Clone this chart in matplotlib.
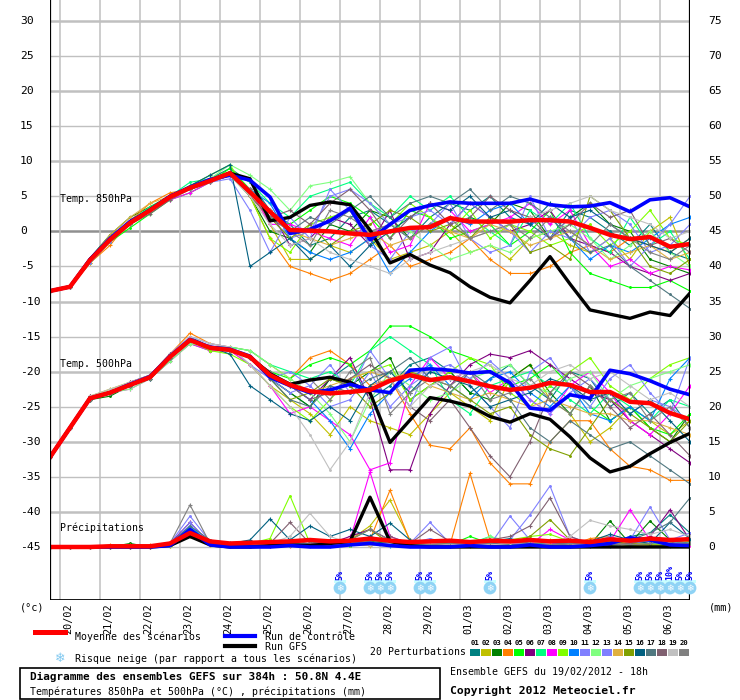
import matplotlib
matplotlib.use('Agg')
import matplotlib.pyplot as plt
import matplotlib.transforms as mtransforms
from matplotlib.patches import Rectangle
from matplotlib.lines import Line2D
import numpy as np

plt.rcParams['font.family'] = ['DejaVu Sans Mono', 'DejaVu Sans']

# time axis: hours from 19/02/2012 18h, every 12h
hours = list(range(0, 385, 12))

t850_mean = [-8.5, -7.9, -4.1, -1.2, 1.2, 3.0, 4.9, 6.2, 7.2, 8.3, 5.6, 2.8, 0.2, 0.1, 0.0, -0.3, -0.5,
             0.0, 0.5, 0.6, 1.9, 1.4, 1.4, 1.4, 1.6, 1.6, 1.4, 0.5, -0.5, -1.1, -0.8, -2.2, -1.8]
t850_ctrl = [-8.5, -7.9, -4.0, -1.0, 1.4, 3.0, 5.0, 6.3, 7.4, 8.0, 7.3, 4.9, -0.3, 0.3, 1.5, 3.3, -1.2,
             1.0, 3.0, 3.7, 4.2, 4.0, 4.0, 4.0, 4.6, 3.8, 3.5, 3.6, 4.1, 2.8, 4.5, 4.8, 3.5]
t850_gfs = [-8.5, -7.9, -4.0, -1.1, 1.3, 3.1, 5.0, 6.2, 7.3, 8.3, 7.5, 1.5, 2.0, 3.7, 4.2, 3.8, 0.2,
            -4.5, -3.3, -4.8, -5.9, -7.9, -9.4, -10.2, -7.0, -3.6, -7.5, -11.2, -11.8, -12.4, -11.5, -12.0, -8.8]

t500_mean = [-32.2, -28.0, -23.8, -23.0, -21.9, -20.8, -17.9, -15.5, -16.6, -16.9, -17.9, -20.5, -21.9,
             -22.8, -23.1, -22.9, -22.6, -21.3, -20.5, -21.2, -20.8, -21.4, -22.1, -22.6, -22.3, -21.6,
             -21.9, -22.9, -22.9, -24.3, -24.5, -25.9, -26.8]
t500_ctrl = [-32.2, -28.0, -23.8, -23.0, -21.8, -20.7, -17.8, -15.4, -16.5, -16.8, -17.8, -20.8, -22.0,
             -23.0, -22.6, -21.8, -22.6, -23.0, -19.8, -19.6, -19.8, -20.2, -20.0, -21.6, -25.2, -25.5,
             -23.3, -23.8, -19.8, -20.3, -21.3, -22.5, -23.3]
t500_gfs = [-32.2, -28.0, -23.8, -23.0, -21.9, -20.8, -17.9, -15.5, -16.6, -16.9, -17.9, -20.3, -21.8,
            -21.2, -20.8, -21.5, -23.0, -30.1, -26.9, -23.7, -24.2, -24.9, -26.4, -27.2, -26.0, -26.8,
            -29.3, -32.3, -34.3, -33.5, -31.7, -30.1, -28.8]

precip_mean = [0, 0, 0, 0.1, 0.1, 0.1, 0.5, 2.0, 0.8, 0.5, 0.6, 0.7, 0.8, 1.0, 0.8, 0.9, 1.2, 0.9, 0.7,
               0.8, 0.9, 0.7, 0.9, 0.8, 1.0, 0.8, 0.9, 0.7, 1.1, 0.9, 1.2, 1.0, 1.1]
precip_ctrl = [0, 0, 0, 0, 0, 0, 0.2, 2.5, 0.3, 0, 0, 0, 0.2, 0, 0, 0.3, 0.5, 0.2, 0, 0, 0, 0.2, 0, 0,
               0.3, 0, 0, 0.2, 0.5, 1.3, 1.0, 0.3, 0.2]
precip_gfs = [0, 0, 0, 0, 0, 0, 0.2, 1.5, 0.3, 0, 0, 0.2, 0.3, 0.2, 0.5, 0.8, 7.1, 0.8, 0.2, 0, 0, 0, 0,
              0, 0, 0, 0, 0, 0, 0, 0, 0, 0]

member_colors = ['#008080', '#c0c000', '#008000', '#ff8000', '#00ff00', '#800080', '#00ff80',
                 '#ff00ff', '#80ff00', '#0080ff', '#8080ff', '#80ff80', '#7f7fff', '#e0b040',
                 '#80a000', '#006080', '#507880', '#806070', '#c0c0c0', '#808080']

t850_members = [
    [-8.5, -7.8, -4, -1, 1.5, 3, 5, 6.5, 7.5, 9, 7, 3, 1, -2, -1, 2, 3, 1, -1, 2, 4, 3, 5, 2, 1, -1, 3, 2, 0, -2, 1, -3, -4],
    [-8.5, -8, -4.5, -1.5, 1, 3, 5, 6, 7, 8.5, 6, 1, -4, -4, -2, -3, -1, -4, -3, -2, 0, -3, -2, -4, -1, 0, -2, -3, -1, -4, 0, 2, -5],
    [-8.5, -7.9, -3.8, -0.5, 2, 3.5, 5, 6, 7, 8, 5, 0, -1, -3, 1, 0, 3, 2, -1, 1, 0, 2, 1, 4, 3, -1, 2, 4, 1, 0, -4, -5, -6],
    [-8.5, -8, -4.5, -2, 1.5, 4, 5.5, 6, 7.5, 8.5, 5, -1, -5, -6, -7, -6, -4, -2, -5, -4, -3, -1, -4, -6, -6, -5, -3, -2, -3, -1, -2, -3, -1],
    [-8.5, -7.9, -4.5, -1.5, 0.5, 2.5, 4.5, 5.5, 7, 9, 6, 2, 1, 3, 5, 4, 2, -1, 3, 2, -1, 0, 1, -2, 0, 3, -3, -6, -7, -8, -8, -7, -8.5],
    [-8.5, -7.9, -4, -1, 1, 3, 5, 6, 7, 8, 6, 3, -2, -1, 2, 1, -2, 3, -4, -3, 1, 4, 2, 0, 1, 3, -1, -2, -3, -5, -6, -7, -6],
    [-8.5, -8, -4, -1, 1.5, 3.5, 5, 7, 7.5, 8.5, 7, 4, 2, 5, 6, 7, 4, 2, 5, 3, 5, 2, 0, -2, 3, 1, 4, -1, -3, 2, -2, 0, -4],
    [-8.5, -7.9, -4, -1, 1, 3, 4.5, 5.5, 7, 8, 6, 1, 1, 0, -1, -2, 2, -3, -2, 4, 3, 0, 1, 2, 4, 1, 3, -2, -5, -4, -6, -5, -5.5],
    [-8.5, -7.9, -4, -1, 1, 3, 5, 6.5, 8, 9.5, 5, -1, -3, 1, 2, 3, -2, 1, 4, 2, 0, 3, -1, 1, 0, -2, -1, 1, -2, 0, 3, -1, -2],
    [-8.5, -7.9, -4, -1, 1.5, 3, 5, 6, 7.5, 8, 6, 4, -1, -3, -4, -3, -1, -6, -3, 0, 2, 1, 3, 4, 1, 2, -1, -4, -2, -3, -1, 1, 2],
    [-8.5, -7.9, -4.5, -1.5, 1, 3, 5, 6, 7, 7.5, 3, -3, 2, -1, 6, 3, -2, -4, 0, 1, 4, -1, -3, -2, 5, -1, 2, -3, -1, -5, -2, 1, 5],
    [-8.5, -8, -4, -1, 1, 3, 5, 6.5, 7.5, 9.5, 8, 6, 3, 6.5, 7, 7.8, 4, 1, 0, -2, -4, -3, -2, -3, -1, 0, 1, -1, -4, -2, 0, -3, -5],
    [-8.5, -7.9, -4, -1, 1.5, 3, 5, 6, 7, 8, 6, 2, -1, 0, 5, 6, 4, 1, 2, 3, 1, 4, 2, 0, -3, 0, -1, 2, 3, 1, -3, -2, 1],
    [-8.5, -8, -4, -0.5, 2, 4, 5, 6, 7.5, 8, 6, 3, 0, -1, -2, -1, 0, -2, -1, 1, 0, -1, 1, 0, -2, -1, 0, -2, -4, -3, -2, -4, -3],
    [-8.5, -7.9, -4, -1, 1, 3, 5, 6, 7, 8.5, 5, 2, -1, 1, -2, 0, 1, 3, 2, 0, 1, -1, 2, 1, -3, -2, -4, 5, 3, -1, -5, -6, -4],
    [-8.5, -7.9, -4, -1, 1.5, 3, 5, 6.5, 8, 9.5, -5, -3, -1, -4, -2, -5, -2, 0, 2, 4, 3, 5, 2, 3, 1, 4, 2, 3, 1, -1, -2, -3, -1],
    [-8.5, -7.9, -4, -1, 1, 3, 5, 6, 7, 8, 6, 2, 0, 2, 1, 3, 5, 2, 4, 5, 4, 6, 3, 5, 4, 2, -1, -3, -2, -5, -7, -9, -11],
    [-8.5, -7.9, -4, -1, 1, 2.5, 4.5, 6, 7, 8.5, 5, 2, 3, 1, 4, 6, 3, -1, 2, 4, 1, 2, 5, 3, 2, -1, 1, 4, 2, 3, -2, -1, -3],
    [-8.5, -7.9, -4, -1, 1, 3, 5, 6, 7, 8, 5, 1, -2, -1, -3, -4, -5, -6, -4, -3, -2, -1, 0, 1, 2, 3, 4, 5, 3, 2, 1, -1, 0],
    [-8.5, -7.9, -4, -1, 1, 3, 5, 6, 7, 8, 6, 2, 0, -2, 3, 2, 0, 1, -1, 1, 2, -1, 0, 1, -1, 2, 0, -2, 1, -1, -3, -4, -2],
]

t500_members = [
    [-32.2, -28, -24, -23, -22, -20.5, -18, -15, -16.5, -17, -18, -21, -23, -25, -21, -19, -24, -22, -19, -18, -20, -23, -21, -19, -22, -24, -20, -21, -25, -23, -26, -24, -28],
    [-32.2, -28, -23.5, -22.5, -21.5, -20.5, -17.5, -15.5, -16.5, -17, -19, -22, -24, -26, -29, -25, -27, -28, -29, -26, -23, -25, -27, -21, -19, -24, -26, -30, -28, -25, -27, -29, -27],
    [-32.2, -28, -24, -23.5, -22, -21, -18, -15.5, -17, -17, -18, -21, -23, -25, -21, -22, -20, -18, -24, -22, -20, -23, -24, -21, -19, -23, -26, -22, -27, -25, -28, -30, -26],
    [-32.2, -28, -24, -23, -22, -20.5, -17.5, -14.5, -16, -16.5, -17, -19, -21, -18, -17, -19, -22, -21, -26, -30.5, -31, -28, -33, -36, -36, -30, -27, -27, -31, -33.5, -34, -35.5, -35.5],
    [-32.2, -28, -24, -23, -22, -21, -18.5, -16, -17, -17, -18, -20, -21, -19, -18, -19, -17, -13.5, -13.5, -15, -17, -18, -20, -22, -21, -19, -22, -25, -27, -25, -28, -29, -26],
    [-32.2, -28, -23.5, -23, -21.5, -20.5, -17.5, -15.5, -16.5, -17, -18, -21, -22, -24, -21, -18, -24, -34, -34, -26, -22, -19, -17.5, -18, -17, -19, -21, -23, -24, -27, -29, -31, -33],
    [-32.2, -28, -24, -23, -22, -21, -18, -15.5, -16.5, -16.5, -17, -19, -20, -21, -20, -22, -17, -15, -17, -19, -24, -26, -22, -21, -20, -22, -24, -26, -23, -25, -27, -24, -25],
    [-32.2, -28, -24, -23, -22.5, -21, -18.5, -16, -17, -17, -19, -22, -26, -25, -27, -29, -34, -33, -22, -18, -21, -20, -23, -21, -24, -26, -22, -20, -23, -27, -29, -26, -22],
    [-32.2, -28, -24, -23, -22, -21, -18, -15.5, -17, -17.5, -19, -22, -25, -27, -24, -21, -20, -19, -24, -22, -20, -18, -19, -23, -25, -22, -20, -18, -22, -24, -21, -19, -18],
    [-32.2, -28, -24, -23, -22, -21, -18, -15.5, -16.5, -17, -18, -20, -22, -24, -27, -31, -26, -23, -21, -19, -22, -24, -21, -20, -23, -25, -22, -26, -27, -25, -27, -21, -18],
    [-32.2, -28, -24, -23, -22, -20.5, -17.5, -15, -16, -16.5, -19, -21, -20, -22, -19, -23, -17, -21, -25, -18, -16.5, -22, -25, -28, -20, -18, -22, -25, -21, -19, -23, -26, -18],
    [-32.2, -28, -24, -23, -22.5, -21, -18.5, -16, -16.5, -16.5, -17, -19, -21, -23, -26, -30, -24, -20, -22, -24, -23, -21, -20, -19, -22, -23, -21, -20, -24, -22, -21, -20, -19],
    [-32.2, -28, -24, -23, -22, -21, -18, -15.5, -16.5, -17, -18, -21, -23, -22, -25, -24, -20, -25, -22, -20, -19, -21, -18.5, -21, -24, -26, -23, -21, -24, -26, -24, -25, -27],
    [-32.2, -28, -24, -23, -22, -20.5, -18, -15.5, -16.5, -17, -18, -20, -22, -23, -22, -21, -20, -21, -20, -22, -23, -24, -23, -24, -25, -24, -25, -26, -26, -27, -27, -28, -29],
    [-32.2, -28, -24, -23, -22, -21, -18, -15.5, -16.5, -17, -18, -21, -24, -23, -21, -22, -25, -23, -20, -21, -22, -24, -26, -25, -29, -31, -32, -28, -24, -26, -28, -30, -27],
    [-32.2, -28, -24, -23, -22, -21, -18, -15.5, -16.5, -17.5, -22, -24, -26, -27, -25, -27, -22, -20, -23, -20, -21, -22, -25, -24, -23, -21, -22, -24, -23, -26, -24, -27, -30],
    [-32.2, -28, -24, -23, -22, -21, -18, -15.5, -16.5, -17, -18, -21, -24, -25, -22, -23, -21, -20, -18, -21, -23, -20, -22, -24, -28, -30, -27, -29, -31, -30, -32, -34, -36],
    [-32.2, -28, -23.5, -23, -22, -20.5, -17.5, -15.5, -16.5, -17, -18, -20, -22, -24, -23, -21, -19, -21, -25, -27, -24, -28, -32, -35, -30, -23, -20, -22, -25, -28, -26, -29, -32],
    [-32.2, -28, -23.5, -22.5, -21.5, -20.5, -17.5, -15, -16, -16.5, -19, -22, -25, -29, -34, -30, -23, -21, -25, -22, -21, -20, -19, -21, -22, -20, -19, -21, -20, -22, -24, -23, -25],
    [-32.2, -28, -24, -23, -22, -21, -18, -15.5, -16.5, -17, -18, -20, -22, -21, -24, -20, -18, -26, -23, -21, -22, -20, -24, -23, -21, -24, -26, -22, -24, -23, -27, -25, -28],
]

precip_members = [
    [0, 0, 0, 0, 0, 0, 0.3, 1.5, 0.5, 0.2, 0.3, 0.5, 0.2, 0.5, 1, 0.8, 0.3, 0.5, 0.2, 0.8, 0.5, 0.3, 0.2, 0.5, 1, 0.3, 0.5, 0.2, 0.5, 1.5, 2, 4.6, 2],
    [0, 0, 0, 0, 0, 0, 0.2, 2, 0.5, 0.2, 0.2, 0.3, 0.5, 0.2, 0.3, 1, 3, 6.7, 1, 0.3, 0.2, 0.5, 0.3, 0.2, 0.5, 1, 0.5, 0.3, 0.5, 0.2, 0.3, 0.5, 0.3],
    [0, 0, 0, 0, 0.5, 0, 0.3, 2.5, 0.8, 0.3, 0.2, 0.5, 0.3, 0.2, 0.5, 0.3, 0.8, 0.5, 0.3, 0.2, 0.5, 0.3, 0.5, 0.2, 0.3, 0.5, 0.8, 0.3, 3.7, 0.5, 3.7, 1, 0.5],
    [0, 0, 0, 0.3, 0.3, 0.3, 0.2, 1.5, 0.5, 0.2, 0.3, 0.2, 0.5, 0.3, 0.5, 0.8, 1, 8.1, 0.8, 0.5, 0.3, 10.5, 1, 0.5, 0.3, 0.5, 0.2, 1.2, 1.5, 0.5, 0.8, 0.3, 0.5],
    [0, 0, 0, 0, 0, 0, 0.2, 2.2, 0.5, 0.2, 0, 0.2, 0.3, 0.5, 0.3, 0.2, 0.5, 0.3, 0.2, 0.5, 0.3, 1.5, 0.5, 0.3, 0.2, 0.5, 0.3, 0.2, 0.5, 0.3, 0.5, 0.2, 0.3],
    [0, 0, 0, 0, 0, 0, 0.5, 3.5, 0.5, 0.2, 0.3, 0.2, 0.5, 1, 0.5, 1.5, 2.5, 1, 0.5, 0.3, 0.2, 0.3, 0.5, 0.2, 0.3, 0.5, 0.3, 0.2, 0.3, 0.5, 1.5, 5.3, 1],
    [0, 0, 0, 0, 0, 0, 0.3, 2.8, 0.5, 0.3, 0.2, 0.3, 0.2, 0.3, 0.5, 0.3, 0.5, 0.3, 0.5, 0.2, 0.3, 0.5, 1.5, 0.5, 0.3, 0.5, 0.3, 0.2, 0.5, 0.3, 0.5, 0.3, 0.5],
    [0, 0, 0, 0, 0, 0.2, 0.3, 2.5, 0.5, 0.2, 0.3, 0.5, 0.2, 0.3, 0.5, 1, 10.7, 1.5, 0.5, 0.3, 0.2, 0.5, 0.3, 0.5, 0.3, 2.5, 1, 0.5, 0.8, 5.3, 1, 0.5, 0.3],
    [0, 0, 0, 0, 0, 0, 0.2, 2, 0.5, 0.2, 0.5, 1.2, 7.3, 0.5, 0.3, 0.5, 1, 0.8, 0.5, 0.3, 0.5, 0.3, 0.5, 1, 1.5, 1.8, 0.8, 0.5, 0.3, 0.5, 0.3, 0.5, 0.8],
    [0, 0, 0, 0, 0, 0, 0.3, 3, 0.5, 0.3, 0.2, 0.3, 0.5, 0.3, 0.2, 0.3, 0.5, 0.2, 0.3, 0.5, 0.2, 0.3, 0.5, 0.2, 0.3, 0.5, 0.2, 0.3, 0.2, 0.5, 1, 0.8, 0.5],
    [0, 0, 0, 0, 0, 0, 0.5, 4.4, 0.8, 0.3, 0.2, 0.5, 0.3, 0.5, 0.3, 0.5, 1.5, 0.8, 0.5, 3.5, 0.5, 0.3, 0.5, 1, 4.6, 8.7, 1.5, 0.5, 0.3, 1, 5.7, 1, 2],
    [0, 0, 0, 0, 0, 0, 0.2, 2.5, 0.5, 0.2, 0.3, 0.5, 0.3, 0.2, 0.5, 0.3, 0.5, 0.3, 0.2, 0.5, 0.3, 0.2, 1.5, 0.8, 0.5, 0.3, 0.5, 0.3, 0.2, 0.5, 0.3, 0.2, 0.5],
    [0, 0, 0, 0, 0, 0, 0.3, 3.5, 0.5, 0.3, 0.2, 0.3, 0.5, 0.3, 0.5, 0.8, 0.5, 0.3, 0.5, 1.2, 0.5, 0.8, 0.3, 4.4, 1, 0.5, 0.3, 0.5, 1.5, 0.5, 0.8, 0.5, 1.2],
    [0, 0, 0, 0, 0, 0, 0.2, 1.8, 0.3, 0.2, 0.2, 0.3, 0.2, 0.3, 0.2, 0.3, 0.2, 0.5, 0.3, 0.2, 0.3, 0.2, 0.3, 0.2, 0.3, 0.2, 0.3, 0.2, 0.3, 0.5, 0.3, 0.2, 0.5],
    [0, 0, 0, 0, 0, 0, 0.3, 2.2, 0.5, 0.3, 0.2, 0.5, 0.3, 0.2, 0.5, 1, 2.5, 0.5, 0.3, 0.2, 0.5, 0.3, 0.2, 0.5, 1.5, 3.9, 1, 0.5, 0.8, 0.5, 0.3, 0.2, 0.5],
    [0, 0, 0, 0, 0, 0, 0.5, 2.5, 0.8, 0.5, 1, 4, 1, 3, 1.5, 2.5, 1.5, 3.4, 1, 0.5, 0.3, 0.5, 0.8, 1.2, 0.5, 0.3, 0.5, 0.8, 1.8, 1, 0.5, 3.5, 1.2],
    [0, 0, 0, 0, 0, 0, 0.5, 3, 1, 0.3, 0.2, 0.5, 0.3, 0.5, 0.8, 0.5, 1, 0.5, 0.3, 0.5, 0.3, 0.2, 0.5, 0.3, 0.5, 0.3, 0.5, 0.8, 0.5, 1, 2, 3.5, 7],
    [0, 0, 0, 0, 0, 0, 0.3, 2, 0.5, 0.3, 0.2, 0.5, 3.5, 0.5, 0.3, 0.5, 0.8, 1.5, 0.5, 2.5, 0.8, 0.5, 1, 1.5, 3, 7, 1.5, 0.5, 0.3, 0.5, 1, 0.5, 1.5],
    [0, 0, 0, 0, 0, 0, 0.2, 2.5, 0.5, 0.2, 0.3, 0.5, 1.5, 4.8, 1.5, 0.5, 0.3, 0.5, 0.3, 0.5, 0.3, 0.5, 0.3, 0.5, 0.8, 0.5, 1.5, 3.8, 3, 2.5, 1.8, 2.5, 1.5],
    [0, 0, 0, 0, 0, 0, 0.5, 6, 0.5, 0.3, 0.2, 0.5, 0.3, 0.8, 0.5, 1, 2.5, 1, 0.5, 0.3, 0.5, 0.3, 0.5, 0.8, 0.5, 0.3, 0.5, 0.3, 0.5, 0.3, 0.5, 0.8, 0.5],
]

# snow risk markers (hours after run start) and percentage
snow_hours = [174, 192, 198, 204, 222, 228, 264, 324, 354, 360, 366, 372, 378, 384]
snow_pct = [5, 5, 5, 5, 5, 5, 5, 5, 5, 5, 5, 10, 5, 5]

day_labels = ['20/02', '21/02', '22/02', '23/02', '24/02', '25/02', '26/02', '27/02',
              '28/02', '29/02', '01/03', '02/03', '03/03', '04/03', '05/03', '06/03']

for arr in t850_members + t500_members + precip_members:
    assert len(arr) == len(hours), len(arr)

W, H = 740, 700
fig = plt.figure(figsize=(W / 100, H / 100), dpi=100)
ax = fig.add_axes([50 / W, 100 / H, 640 / W, 600 / H])
ax.set_xlim(0, 384)
ax.set_ylim(-52.56, 32.99)
ax.axis('off')

def fx(px):
    return px / W

def fy(py):
    return 1 - py / H

# grid
for v in range(-45, 31, 5):
    if v == 0:
        ax.axhline(v, color='#909090', lw=1.8, zorder=1)
    elif v % 10 == 0:
        ax.axhline(v, color='#c0c0c0', lw=1.8, zorder=1)
    else:
        ax.axhline(v, color='#c0c0c0', lw=1.0, zorder=1)
for k in range(len(day_labels)):
    ax.axvline(6 + 24 * k, color='#c0c0c0', lw=1.1, zorder=1)
ax.axvline(0, color='black', lw=1.6, zorder=6)
ax.axvline(384, color='black', lw=1.6, zorder=6)
ax.axhline(-52.56, color='black', lw=2.0, zorder=6)

# members
mk = ['.', '+']
for i in range(20):
    c = member_colors[i]
    ax.plot(hours, t850_members[i], color=c, lw=0.8, marker=mk[i % 2], ms=2.5, mew=0.8, zorder=2)
    ax.plot(hours, t500_members[i], color=c, lw=0.8, marker=mk[i % 2], ms=2.5, mew=0.8, zorder=2)
    ax.plot(hours, np.array(precip_members[i]) - 45, color=c, lw=0.8, marker=mk[i % 2], ms=2.5, mew=0.8, zorder=2)

# GFS, control, mean
for series in (t850_gfs, t500_gfs, np.array(precip_gfs) - 45):
    ax.plot(hours, series, color='black', lw=2.4, zorder=3)
for series in (t850_ctrl, t500_ctrl, np.array(precip_ctrl) - 45):
    ax.plot(hours, series, color='#0000ff', lw=2.6, zorder=4)
for series in (t850_mean, t500_mean, np.array(precip_mean) - 45):
    ax.plot(hours, series, color='#ff0000', lw=3.2, zorder=5)

# tick labels
tl = mtransforms.blended_transform_factory(ax.transAxes, ax.transData)
for v in range(-45, 31, 5):
    ax.text(-30 / 640, v, str(v), transform=tl, ha='left', va='center', fontsize=8.2)
    ax.text(658 / 640, v, str(v + 45), transform=tl, ha='left', va='center', fontsize=8.2)

td = mtransforms.blended_transform_factory(ax.transData, ax.transAxes)
for k, lab in enumerate(day_labels):
    ax.text(6 + 24 * k + 4.8, -0.006, lab, transform=td, rotation=90, ha='center', va='top',
            fontsize=7.3, clip_on=False)

ax.text(6, 4.6, 'Temp. 850hPa', fontsize=7.1, va='center', ha='left', zorder=7)
ax.text(6, -18.9, 'Temp. 500hPa', fontsize=7.1, va='center', ha='left', zorder=7)
ax.text(6, -42.3, 'Précipitations', fontsize=7.1, va='center', ha='left', zorder=7)

# snow risk
for h, p in zip(snow_hours, snow_pct):
    ax.add_patch(Rectangle((h - 3.5, -50.13), 7, 0.43, color='#c8ffff', lw=0, zorder=7, clip_on=False))
    ax.scatter([h], [-50.85], s=85, color='#8fd3f5', edgecolors='none', zorder=8, clip_on=False)
    ax.text(h, -50.85, '❄', color='white', fontsize=6.5, ha='center', va='center', zorder=9,
            family='DejaVu Sans', clip_on=False)
    ax.text(h, -49.7, f'{p}%', color='#0000ff', fontsize=6, fontweight='bold', rotation=90,
            ha='center', va='bottom', zorder=9)

# outer labels
fig.text(fx(20), fy(607), '(°c)', fontsize=7.3, va='center', ha='left')
fig.text(fx(709), fy(607), '(mm)', fontsize=7.3, va='center', ha='left')

# legend
fig.add_artist(Line2D([fx(35), fx(65)], [fy(632), fy(632)], color='#ff0000', lw=3.6))
fig.text(fx(75), fy(637), 'Moyenne des scénarios', fontsize=7.1, va='center')
fig.add_artist(Line2D([fx(225), fx(255)], [fy(636), fy(636)], color='#0000ff', lw=3.0))
fig.text(fx(265), fy(637), 'Run de contrôle', fontsize=7.1, va='center')
fig.add_artist(Line2D([fx(225), fx(255)], [fy(646), fy(646)], color='black', lw=3.0))
fig.text(fx(265), fy(647), 'Run GFS', fontsize=7.1, va='center')
fig.text(fx(60), fy(659), '❄', fontsize=9, color='#7fc8f0', va='center', ha='center', family='DejaVu Sans')
fig.text(fx(75), fy(659), 'Risque neige (par rapport a tous les scénarios)', fontsize=7.1, va='center')

fig.add_artist(Rectangle((fx(20), fy(699)), fx(420), 31 / H, fill=False, edgecolor='black', lw=1.2))
fig.text(fx(30), fy(677), 'Diagramme des ensembles GEFS sur 384h : 50.8N 4.4E', fontsize=7.9,
         fontweight='bold', va='center')
fig.text(fx(30), fy(692), 'Températures 850hPa et 500hPa (°C) , précipitations (mm)', fontsize=7.1,
         va='center')

fig.text(fx(370), fy(652), '20 Perturbations', fontsize=7.1, va='center')
for i, c in enumerate(member_colors):
    x0 = 470 + 11 * i
    fig.add_artist(Rectangle((fx(x0), fy(656)), 10 / W, 7 / H, color=c, lw=0))
    fig.text(fx(x0 + 5), fy(643), f'{i + 1:02d}', fontsize=5.2, fontweight='bold', ha='center',
             va='center')

fig.text(fx(450), fy(672), 'Ensemble GEFS du 19/02/2012 - 18h', fontsize=7.1, va='center')
fig.text(fx(450), fy(691), 'Copyright 2012 Meteociel.fr', fontsize=8.2, fontweight='bold', va='center')

fig.savefig('out.png', dpi=100)
